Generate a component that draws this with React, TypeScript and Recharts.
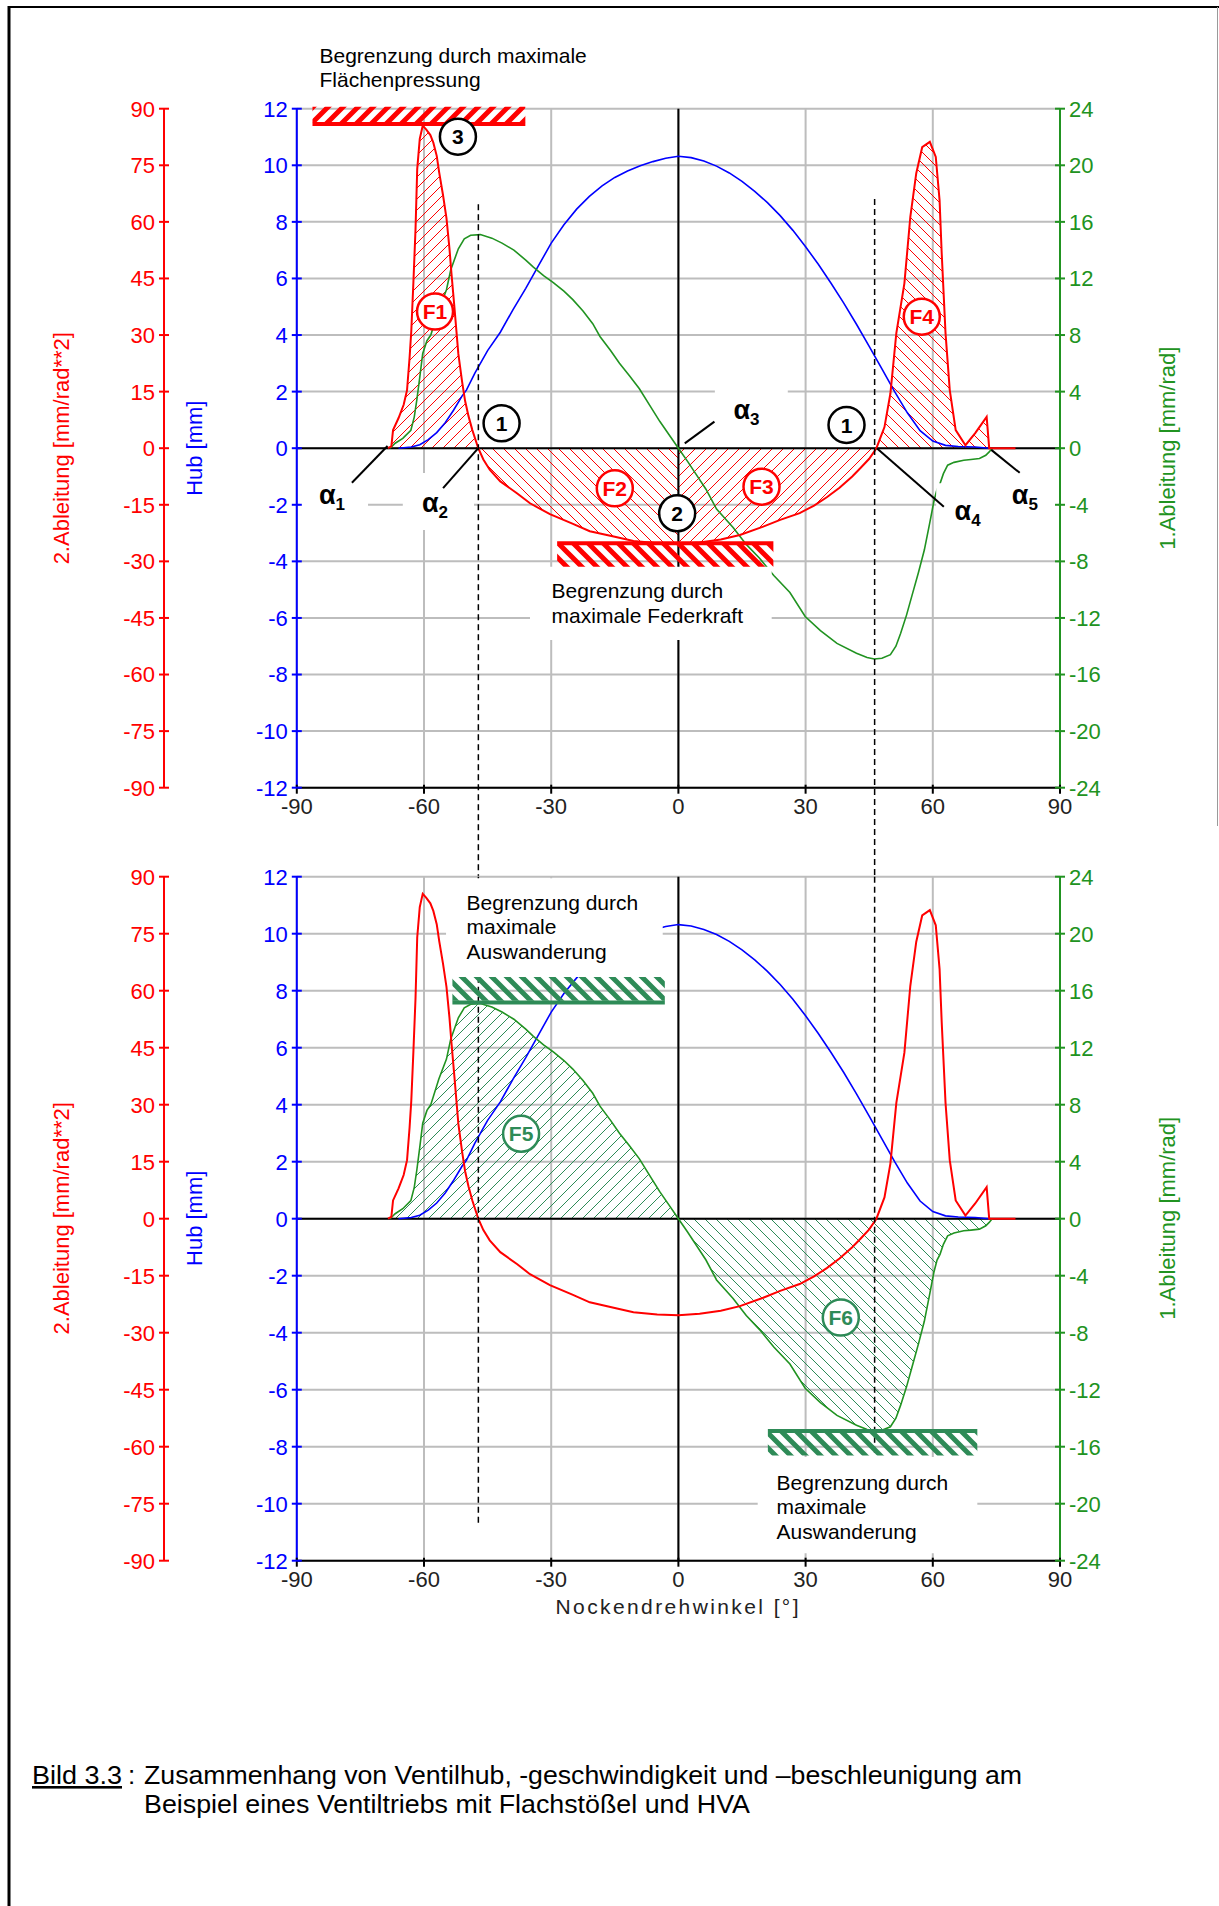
import React from 'react';
import {
  Area,
  CartesianGrid,
  ComposedChart,
  Line,
  ReferenceArea,
  ReferenceDot,
  ReferenceLine,
  XAxis,
  YAxis,
} from 'recharts';

const FONT = '"Liberation Sans", Arial, sans-serif';
const RED = '#ff0000';
const BLUE = '#0000ff';
const GREEN = '#219321';
const TEAL = '#2e8b57';
const GRID = '#bdbdbd';

// axis ticks
const angleTicks = [-90, -60, -30, 0, 30, 60, 90];
const hubTicks = [-12, -10, -8, -6, -4, -2, 0, 2, 4, 6, 8, 10, 12];
const accTicks = [-90, -75, -60, -45, -30, -15, 0, 15, 30, 45, 60, 75, 90];
const velTicks = [-24, -20, -16, -12, -8, -4, 0, 4, 8, 12, 16, 20, 24];

// Hub [mm] over Nockendrehwinkel [°]
const liftAngle = [-66, -63, -61, -59, -57, -55, -53, -51, -50, -48, -45, -42, -39, -36, -33, -30, -27, -24, -21, -18, -15, -12, -9, -6, -3, 0, 3, 6, 9, 12, 15, 18, 21, 24, 27, 30, 33, 36, 39, 42, 45, 48, 51, 54, 57, 60, 63, 66, 70, 73.3];
const liftMm = [0, 0.04, 0.12, 0.3, 0.55, 0.9, 1.35, 1.85, 2.05, 2.65, 3.45, 4.1, 4.9, 5.65, 6.45, 7.25, 7.9, 8.45, 8.9, 9.27, 9.57, 9.8, 9.98, 10.13, 10.25, 10.32, 10.27, 10.15, 9.97, 9.73, 9.43, 9.08, 8.68, 8.22, 7.7, 7.12, 6.5, 5.83, 5.13, 4.38, 3.6, 2.8, 2.0, 1.25, 0.62, 0.25, 0.1, 0.06, 0.04, 0];

// 1.Ableitung [mm/rad]
const velAngle = [-68, -66.8, -65, -63.1, -62.3, -61.7, -61, -60.3, -59.3, -58.4, -56.5, -54.7, -53.7, -51.9, -50.5, -49, -46.7, -44, -41.6, -38.8, -36, -34.2, -31.8, -29.5, -27, -24.9, -22.5, -20.2, -18.5, -16, -13.9, -11.5, -9.2, -6.5, -4.4, -2.2, 0, 2.2, 4.3, 6.5, 9, 12.9, 16, 19.2, 22.5, 26.3, 29.9, 33.5, 37.4, 42, 44.5, 46.2, 48, 50, 51.3, 52.4, 53.8, 55.2, 56.6, 58, 59.2, 60.3, 61, 61.7, 62.5, 63.5, 65, 67.3, 69, 71, 72.5, 73.3, 74];
const velMmRad = [0, 0.35, 0.7, 1.27, 2.2, 3.4, 5.0, 6.7, 7.6, 8.0, 9.8, 11.2, 12.6, 14.1, 14.8, 15.05, 15.1, 14.85, 14.5, 14.0, 13.3, 12.8, 12.2, 11.7, 11.1, 10.5, 9.7, 8.8, 7.9, 6.9, 6.0, 5.1, 4.2, 2.9, 1.9, 0.95, 0, -0.95, -1.9, -2.9, -4.3, -5.6, -6.8, -7.8, -9.0, -10.2, -11.9, -12.9, -13.8, -14.5, -14.8, -14.9, -14.85, -14.6, -14.0, -13.1, -11.8, -10.3, -8.8, -7.2, -5.4, -3.7, -2.9, -2.5, -1.8, -1.2, -1.0, -0.85, -0.8, -0.73, -0.5, -0.26, 0];

// 2.Ableitung [mm/rad**2]
const accAngle = [-68.5, -67.7, -67.3, -66, -64.8, -64, -63.4, -63, -62.5, -62, -61.6, -61, -60.3, -59.5, -58.5, -57.8, -57, -56.4, -55.5, -54.7, -54, -53.5, -52.8, -51.9, -51, -50.3, -49.5, -48.6, -47.2, -46, -44.5, -42, -38, -35, -30.3, -25, -20.9, -15, -10.6, -5, 0, 5, 10, 14.5, 20, 24, 28.6, 32, 35, 38, 41, 43, 45, 46.7, 48.6, 50, 51.4, 53.3, 54.7, 56.1, 57.5, 59.3, 60.7, 61.6, 62.1, 63, 64, 65.4, 67.7, 70, 72.7, 73.3, 79.5];
const accMmRad2 = [0, 0.5, 4.8, 8, 11.5, 15.4, 24, 31, 44, 58, 74, 82, 85.5, 84.5, 83, 81, 77.5, 73, 67, 61, 53, 46, 37, 25, 17.5, 12.5, 8.5, 4.8, 0, -3, -5.7, -8.8, -12, -14.6, -17.5, -20, -22, -23.5, -24.6, -25.2, -25.4, -25, -24.2, -23, -20.8, -19, -17.2, -15.2, -13, -10.5, -7.5, -5.2, -2.8, 0, 5.6, 14.5, 30.5, 43.7, 61.3, 72.9, 79.8, 81.2, 77.2, 65.7, 51.7, 30.5, 15.4, 4.8, 0.8, 4, 8.3, 0, 0];

const liftData = liftAngle.map((a, i) => ({ a, hub: liftMm[i] }));
const velData = velAngle.map((a, i) => ({ a, v: velMmRad[i] }));
const accData = accAngle.map((a, i) => ({ a, acc: accMmRad2[i] }));
const part = <T extends { a: number }>(d: T[], lo: number, hi: number) => d.filter((p) => p.a >= lo && p.a <= hi);

// axis ids: the hub axis sits next to the plot, the acceleration axis outside it
const HUB = 'a_hub';
const ACC = 'b_acc';
const VEL = 'c_vel';

function YTick(props: any) {
  const { x, y, payload, color, right } = props;
  const ax = right ? x - 9 : x + 9;
  return (
    <g>
      <line x1={ax - 5} x2={ax + 5} y1={y} y2={y} stroke={color} strokeWidth={2} />
      <text x={x} y={y} dy="0.36em" textAnchor={right ? 'start' : 'end'} fill={color} fontSize={22} fontFamily={FONT}>
        {payload.value}
      </text>
    </g>
  );
}

function XTick(props: any) {
  const { x, y, payload } = props;
  const ay = y - 8;
  return (
    <g>
      <line x1={x} x2={x} y1={ay - 3} y2={ay + 6} stroke="#000" strokeWidth={2} />
      <text x={x} y={ay + 26} textAnchor="middle" fill="#222" fontSize={22} fontFamily={FONT}>
        {payload.value}
      </text>
    </g>
  );
}

const Ring = ({ cx, cy, text, color }: any) => (
  <g>
    <circle cx={cx} cy={cy} r={18} fill="#fff" stroke={color} strokeWidth={2.5} />
    <text x={cx} y={cy} dy="0.36em" textAnchor="middle" fontFamily={FONT} fontWeight="bold" fontSize={21} fill={color}>
      {text}
    </text>
  </g>
);

const Alpha = ({ cx, cy, n }: any) => (
  <text x={cx} y={cy + 7} textAnchor="middle" fontFamily={FONT} fontWeight="bold" fontSize={27} fill="#000">
    α<tspan fontSize={17} dy={6}>{n}</tspan>
  </text>
);

const Note = ({ cx, cy, lines }: any) => (
  <g>
    {lines.map((t: string, i: number) => (
      <text key={i} x={cx} y={cy + i * 24.5} dy="0.36em" fontFamily={FONT} fontSize={21} fill="#000">
        {t}
      </text>
    ))}
  </g>
);

const Patterns = () => (
  <defs>
    <pattern id="hRedF" width="11" height="11" patternUnits="userSpaceOnUse">
      <path d="M-1,1 l2,-2 M0,11 l11,-11 M10,12 l2,-2" stroke={RED} strokeWidth={1} />
    </pattern>
    <pattern id="hRedB" width="11" height="11" patternUnits="userSpaceOnUse">
      <path d="M-1,10 l2,2 M0,0 l11,11 M10,-1 l2,2" stroke={RED} strokeWidth={1} />
    </pattern>
    <pattern id="hGrnF" width="11" height="11" patternUnits="userSpaceOnUse">
      <path d="M-1,1 l2,-2 M0,11 l11,-11 M10,12 l2,-2" stroke={TEAL} strokeWidth={1} />
    </pattern>
    <pattern id="hGrnB" width="11" height="11" patternUnits="userSpaceOnUse">
      <path d="M-1,10 l2,2 M0,0 l11,11 M10,-1 l2,2" stroke={TEAL} strokeWidth={1} />
    </pattern>
    <pattern id="barRedF" width="15" height="15" patternUnits="userSpaceOnUse">
      <path d="M-2,2 l4,-4 M0,15 l15,-15 M13,17 l4,-4" stroke={RED} strokeWidth={5} />
    </pattern>
    <pattern id="barRedB" width="15" height="15" patternUnits="userSpaceOnUse">
      <path d="M-2,13 l4,4 M0,0 l15,15 M13,-2 l4,4" stroke={RED} strokeWidth={5} />
    </pattern>
    <pattern id="barGrnB" width="15" height="15" patternUnits="userSpaceOnUse">
      <path d="M-2,13 l4,4 M0,0 l15,15 M13,-2 l4,4" stroke={TEAL} strokeWidth={5} />
    </pattern>
  </defs>
);

const seg = (x1: number, y1: number, x2: number, y2: number) => [
  { x: x1, y: y1 },
  { x: x2, y: y2 },
];

function Panel({ upper }: { upper: boolean }) {
  const margin = upper
    ? { top: 108.7, right: 19, bottom: 62.3, left: 20 }
    : { top: 76.7, right: 19, bottom: 59.3, left: 20 };
  const box = (x1: number, x2: number, y1: number, y2: number, k: string) => (
    <ReferenceArea key={k} yAxisId={HUB} x1={x1} x2={x2} y1={y1} y2={y2} fill="#fff" fillOpacity={1} stroke="none" ifOverflow="visible" zIndex={420} />
  );
  const bar = (x1: number, x2: number, y1: number, y2: number, lineY: number, fill: string, color: string, k: string) => [
    <ReferenceArea key={k + 'a'} yAxisId={HUB} x1={x1} x2={x2} y1={y1} y2={y2} fill={fill} fillOpacity={1} stroke="none" ifOverflow="visible" zIndex={430} />,
    <ReferenceLine key={k + 'l'} yAxisId={HUB} segment={seg(x1, lineY, x2, lineY)} stroke={color} strokeWidth={4} ifOverflow="visible" zIndex={440} />,
  ];
  const leader = (x1: number, y1: number, x2: number, y2: number, k: string) => (
    <ReferenceLine key={k} yAxisId={HUB} segment={seg(x1, y1, x2, y2)} stroke="#000" strokeWidth={2} ifOverflow="visible" zIndex={450} />
  );
  const dashed = (x: number, y1: number, y2: number, k: string) => (
    <ReferenceLine key={k} yAxisId={HUB} segment={seg(x, y1, x, y2)} stroke="#000" strokeWidth={1.5} strokeDasharray="6 4" ifOverflow="visible" zIndex={410} />
  );
  const dot = (x: number, y: number, render: (p: any) => React.ReactElement, k: string) => (
    <ReferenceDot key={k} yAxisId={HUB} x={x} y={y} r={1} ifOverflow="visible" zIndex={650} shape={render} />
  );

  return (
    <ComposedChart width={1219} height={upper ? 880 : 850} margin={margin}>
      <Patterns />
      <CartesianGrid yAxisId={HUB} stroke={GRID} strokeWidth={2} />
      <XAxis
        dataKey="a"
        type="number"
        domain={[-90, 90]}
        ticks={angleTicks}
        interval={0}
        allowDataOverflow
        height={30}
        axisLine={{ stroke: '#000', strokeWidth: 2 }}
        tickLine={false}
        tickSize={0}
        tickMargin={8}
        tick={<XTick />}
      />
      <YAxis
        yAxisId={HUB}
        orientation="left"
        type="number"
        width={132.8}
        domain={[-12, 12]}
        ticks={hubTicks}
        interval={0}
        allowDataOverflow
        axisLine={{ stroke: BLUE, strokeWidth: 2 }}
        tickLine={false}
        tickSize={0}
        tickMargin={9}
        tick={<YTick color={BLUE} />}
      />
      <YAxis
        yAxisId={ACC}
        orientation="left"
        type="number"
        width={144}
        domain={[-90, 90]}
        ticks={accTicks}
        interval={0}
        allowDataOverflow
        axisLine={{ stroke: RED, strokeWidth: 2 }}
        tickLine={false}
        tickSize={0}
        tickMargin={9}
        tick={<YTick color={RED} />}
      />
      <YAxis
        yAxisId={VEL}
        orientation="right"
        type="number"
        width={140}
        domain={[-24, 24]}
        ticks={velTicks}
        interval={0}
        allowDataOverflow
        axisLine={{ stroke: GREEN, strokeWidth: 2 }}
        tickLine={false}
        tickSize={0}
        tickMargin={9}
        tick={<YTick color={GREEN} right />}
      />

      {upper && (
        <Area data={part(accData, -68.5, -47.2)} dataKey="acc" yAxisId={ACC} type="linear" baseValue={0} stroke="none" fill="url(#hRedF)" fillOpacity={1} dot={false} activeDot={false} isAnimationActive={false} />
      )}
      {upper && (
        <Area data={part(accData, -47.2, 0)} dataKey="acc" yAxisId={ACC} type="linear" baseValue={0} stroke="none" fill="url(#hRedB)" fillOpacity={1} dot={false} activeDot={false} isAnimationActive={false} />
      )}
      {upper && (
        <Area data={part(accData, 0, 46.7)} dataKey="acc" yAxisId={ACC} type="linear" baseValue={0} stroke="none" fill="url(#hRedF)" fillOpacity={1} dot={false} activeDot={false} isAnimationActive={false} />
      )}
      {upper && (
        <Area data={part(accData, 46.7, 73.3)} dataKey="acc" yAxisId={ACC} type="linear" baseValue={0} stroke="none" fill="url(#hRedB)" fillOpacity={1} dot={false} activeDot={false} isAnimationActive={false} />
      )}
      {!upper && (
        <Area data={part(velData, -68, 0)} dataKey="v" yAxisId={VEL} type="linear" baseValue={0} stroke="none" fill="url(#hGrnF)" fillOpacity={1} dot={false} activeDot={false} isAnimationActive={false} />
      )}
      {!upper && (
        <Area data={part(velData, 0, 74)} dataKey="v" yAxisId={VEL} type="linear" baseValue={0} stroke="none" fill="url(#hGrnB)" fillOpacity={1} dot={false} activeDot={false} isAnimationActive={false} />
      )}

      <ReferenceLine yAxisId={HUB} y={0} stroke="#000" strokeWidth={2} zIndex={300} />
      <ReferenceLine yAxisId={HUB} x={0} stroke="#000" strokeWidth={2} zIndex={300} />

      <Line data={liftData} dataKey="hub" yAxisId={HUB} type="linear" stroke={BLUE} strokeWidth={1.6} dot={false} activeDot={false} isAnimationActive={false} />
      <Line data={velData} dataKey="v" yAxisId={VEL} type="linear" stroke={GREEN} strokeWidth={1.6} dot={false} activeDot={false} isAnimationActive={false} />
      <Line data={accData} dataKey="acc" yAxisId={ACC} type="linear" stroke={RED} strokeWidth={2} dot={false} activeDot={false} isAnimationActive={false} />

      {upper
        ? [dashed(-47.18, 8.62, -15.15, 'd1'), dashed(46.28, 8.81, -15.15, 'd2')]
        : [dashed(-47.18, 12, -10.77, 'd3'), dashed(46.28, 12, -8.31, 'd4')]}

      {upper
        ? [
            box(-89.3, -73.2, -0.77, -2.71, 'b1'),
            box(-65.0, -48.2, -0.88, -2.89, 'b2'),
            box(8.6, 25.8, 0.36, 2.41, 'b3'),
            box(60.8, 89.5, -1.24, -3.42, 'b4'),
            box(-35.0, 22.0, -4.19, -6.78, 'b5'),
          ]
        : [box(-54.8, -3.7, 8.48, 11.95, 'b6'), box(18.7, 70.5, -8.36, -11.74, 'b7')]}

      {upper
        ? [
            ...bar(-86.3, -36.1, 11.52, 12.07, 11.46, 'url(#barRedF)', RED, 'p1'),
            ...bar(-28.6, 22.4, -3.42, -4.19, -3.36, 'url(#barRedB)', RED, 'p2'),
          ]
        : [
            ...bar(-53.3, -3.2, 7.65, 8.48, 7.59, 'url(#barGrnB)', TEAL, 'p3'),
            ...bar(21.1, 70.5, -7.52, -8.31, -7.45, 'url(#barGrnB)', TEAL, 'p4'),
          ]}

      {upper && [
        leader(-77.0, -1.22, -68.6, 0.08, 'l1'),
        leader(-55.5, -1.41, -47.2, 0, 'l2'),
        leader(8.5, 0.94, 1.5, 0.17, 'l3'),
        leader(46.8, 0, 62.6, -2.07, 'l4'),
        leader(73.8, -0.06, 80.5, -0.87, 'l5'),
      ]}

      {upper
        ? [
            dot(-84.65, 13.9, (p) => <Note cx={p.cx} cy={p.cy} lines={['Begrenzung durch maximale', 'Flächenpressung']} />, 't1'),
            dot(-29.9, -5.04, (p) => <Note cx={p.cx} cy={p.cy} lines={['Begrenzung durch', 'maximale Federkraft']} />, 't2'),
            dot(-52.0, 11.01, (p) => <Ring cx={p.cx} cy={p.cy} text="3" color="#000" />, 'c3'),
            dot(-41.7, 0.88, (p) => <Ring cx={p.cx} cy={p.cy} text="1" color="#000" />, 'c1a'),
            dot(39.65, 0.82, (p) => <Ring cx={p.cx} cy={p.cy} text="1" color="#000" />, 'c1b'),
            dot(-0.29, -2.3, (p) => <Ring cx={p.cx} cy={p.cy} text="2" color="#000" />, 'c2'),
            dot(-57.4, 4.83, (p) => <Ring cx={p.cx} cy={p.cy} text="F1" color={RED} />, 'f1'),
            dot(-15.0, -1.42, (p) => <Ring cx={p.cx} cy={p.cy} text="F2" color={RED} />, 'f2'),
            dot(19.6, -1.36, (p) => <Ring cx={p.cx} cy={p.cy} text="F3" color={RED} />, 'f3'),
            dot(57.4, 4.65, (p) => <Ring cx={p.cx} cy={p.cy} text="F4" color={RED} />, 'f4'),
            dot(-81.7, -1.71, (p) => <Alpha cx={p.cx} cy={p.cy} n="1" />, 'a1'),
            dot(-57.4, -2.0, (p) => <Alpha cx={p.cx} cy={p.cy} n="2" />, 'a2'),
            dot(16.07, 1.29, (p) => <Alpha cx={p.cx} cy={p.cy} n="3" />, 'a3'),
            dot(68.2, -2.3, (p) => <Alpha cx={p.cx} cy={p.cy} n="4" />, 'a4'),
            dot(81.7, -1.71, (p) => <Alpha cx={p.cx} cy={p.cy} n="5" />, 'a5'),
          ]
        : [
            dot(-49.96, 11.11, (p) => <Note cx={p.cx} cy={p.cy} lines={['Begrenzung durch', 'maximale', 'Auswanderung']} />, 't3'),
            dot(23.15, -9.24, (p) => <Note cx={p.cx} cy={p.cy} lines={['Begrenzung durch', 'maximale', 'Auswanderung']} />, 't4'),
            dot(-37.1, 2.98, (p) => <Ring cx={p.cx} cy={p.cy} text="F5" color={TEAL} />, 'f5'),
            dot(38.3, -3.47, (p) => <Ring cx={p.cx} cy={p.cy} text="F6" color={TEAL} />, 'f6'),
          ]}
    </ComposedChart>
  );
}

const AxisTitles = ({ cy }: { cy: number }) => (
  <g fontFamily={FONT} fontSize={22}>
    <text transform={`translate(61 ${cy}) rotate(-90)`} textAnchor="middle" dy="0.36em" fill={RED}>
      2.Ableitung [mm/rad**2]
    </text>
    <text transform={`translate(194.5 ${cy}) rotate(-90)`} textAnchor="middle" dy="0.36em" fill={BLUE}>
      Hub [mm]
    </text>
    <text transform={`translate(1167 ${cy}) rotate(-90)`} textAnchor="middle" dy="0.36em" fill={GREEN}>
      1.Ableitung [mm/rad]
    </text>
  </g>
);

export default function App() {
  return (
    <div style={{ position: 'absolute', left: 0, top: 0, width: 1219, height: 1906, background: '#fff', overflow: 'hidden' }}>
      <style>{'.recharts-surface{overflow:visible}'}</style>
      <svg width={1219} height={1906} style={{ position: 'absolute', left: 0, top: 0 }}>
        <line x1={9} y1={6} x2={9} y2={1906} stroke="#000" strokeWidth={3} />
        <line x1={8} y1={7} x2={1219} y2={7} stroke="#000" strokeWidth={2} />
        <line x1={1217.5} y1={7} x2={1217.5} y2={826} stroke="#9a9a9a" strokeWidth={1} />
        <AxisTitles cy={448.2} />
        <AxisTitles cy={1218.3} />
        <text x={677} y={1614} textAnchor="middle" fontFamily={FONT} fontSize={21} fill="#222" textLength={243} lengthAdjust="spacing">
          Nockendrehwinkel [°]
        </text>
        <g fontFamily={FONT} fontSize={26} fill="#000">
          <text x={32} y={1784} textLength={90} lengthAdjust="spacingAndGlyphs" textDecoration="underline">
            Bild 3.3
          </text>
          <text x={128} y={1784}>:</text>
          <text x={144} y={1784} textLength={878} lengthAdjust="spacingAndGlyphs">
            Zusammenhang von Ventilhub, -geschwindigkeit und –beschleunigung am
          </text>
          <text x={144} y={1813} textLength={606} lengthAdjust="spacingAndGlyphs">
            Beispiel eines Ventiltriebs mit Flachstößel und HVA
          </text>
        </g>
      </svg>
      <div style={{ position: 'absolute', left: 0, top: 0 }}>
        <Panel upper />
      </div>
      <div style={{ position: 'absolute', left: 0, top: 800 }}>
        <Panel upper={false} />
      </div>
    </div>
  );
}
